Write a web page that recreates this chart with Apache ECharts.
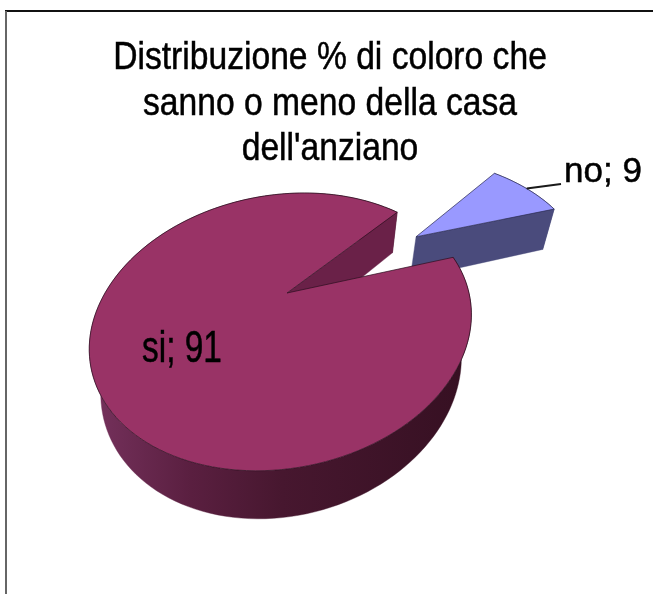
<!DOCTYPE html>
<html>
<head>
<meta charset="utf-8">
<script src="https://cdn.jsdelivr.net/npm/echarts@6/dist/echarts.min.js"></script>
<style>html,body{margin:0;padding:0;background:#fff}#chart{width:653px;height:594px}</style>
</head>
<body>
<div id="chart"></div>
<script>
// Survey shares, clockwise from the first slice angle
const categories = ['no', 'si'];
const values = [9, 91];
const explode = [0.9, 0];
const titleLines = ['Distribuzione % di coloro che', 'sanno o meno della casa', "dell'anziano"];

const firstSliceAngle = 40;
const total = values.reduce((a, b) => a + b, 0);

// Perspective view of a unit-radius disc: x to the right, y towards the viewer, z downwards
const view = { x0: 287, y0: 293, fx: 182, fy: 128, skew: -22, k: 0.28, dropY: 47, dropD: 0.055 };
function project(x, y, z) {
  const d = 1 - view.k * y + view.dropD * z;
  return [
    view.x0 + (view.fx * x + view.skew * y) / d,
    view.y0 + (view.fy * y + view.dropY * z) / d
  ];
}
function planPoint(deg, r, off) {
  const a = deg * Math.PI / 180;
  return [off[0] + r * Math.sin(a), off[1] - r * Math.cos(a)];
}
function arc(from, to, off, z) {
  const pts = [];
  const n = Math.max(2, Math.ceil(Math.abs(to - from) / 2));
  for (let i = 0; i <= n; i++) {
    const p = planPoint(from + (to - from) * i / n, 1, off);
    pts.push(project(p[0], p[1], z));
  }
  return pts;
}

const palette = {
  no: { top: '#9999ff', side: '#4a4b7c', wall: '#4a4b7c', edge: '#2a2a50' },
  si: {
    top: '#993366',
    wall: '#6a2148',
    edge: '#2a0f1e',
    side: {
      type: 'linear', x: 100, y: 0, x2: 465, y2: 0, global: true,
      colorStops: [
        { offset: 0, color: '#73305a' },
        { offset: 0.25, color: '#5a1f40' },
        { offset: 0.5, color: '#47172f' },
        { offset: 1, color: '#361022' }
      ]
    }
  }
};

const labelFont = { fill: '#000', fontFamily: 'Liberation Sans', stroke: '#000', lineWidth: 0.5, verticalAlign: 'middle' };

function renderSlice(params, api) {
  const i = params.dataIndex;
  const before = values.slice(0, i).reduce((a, b) => a + b, 0);
  const start = firstSliceAngle + before / total * 360;
  const end = start + api.value(0) / total * 360;
  const mid = (start + end) / 2;
  const off = planPoint(mid, explode[i], [0, 0]);
  const c = palette[categories[i]];
  const apexTop = project(off[0], off[1], 0);
  const apexBottom = project(off[0], off[1], 1);
  const topArc = arc(start, end, off, 0);
  const bottomArc = arc(start, end, off, 1);
  const poly = (points, fill, stroke, lw) => ({
    type: 'polygon',
    shape: { points },
    style: { fill, stroke: stroke || fill, lineWidth: lw === undefined ? 0.5 : lw }
  });
  const children = [
    // outer rim, then the cut face at the closing angle, then the top face
    poly(topArc.concat(bottomArc.slice().reverse()), c.side, c.side, 0.4),
    poly([apexTop, topArc[topArc.length - 1], bottomArc[bottomArc.length - 1], apexBottom], c.wall, c.wall, 0.4),
    poly([apexTop].concat(topArc), c.top, c.edge, 0.7)
  ];
  if (categories[i] === 'no') {
    const m = planPoint(mid, 1, off);
    const from = project(m[0], m[1], 0);
    children.push({
      type: 'line',
      shape: { x1: from[0], y1: from[1], x2: 561, y2: 184 },
      style: { stroke: '#1a1a1a', lineWidth: 2 }
    });
    children.push({
      type: 'text', x: 564, y: 172,
      style: Object.assign({ text: 'no; ' + api.value(0), fontSize: 35 }, labelFont)
    });
  } else {
    children.push({
      type: 'text', x: 142, y: 350, scaleX: 0.76,
      style: Object.assign({ text: 'si; ' + api.value(0), fontSize: 44 }, labelFont)
    });
  }
  return { type: 'group', children };
}

const chart = echarts.init(document.getElementById('chart'), null, { renderer: 'canvas' });
chart.setOption({
  backgroundColor: '#ffffff',
  animation: false,
  graphic: [
    { type: 'line', shape: { x1: 5, y1: 11, x2: 653, y2: 11 }, style: { stroke: '#111111', lineWidth: 2 } },
    { type: 'line', shape: { x1: 6, y1: 11, x2: 6, y2: 594 }, style: { stroke: '#666666', lineWidth: 2 } },
    {
      type: 'text', x: 330, y: 36, scaleX: 0.885,
      style: {
        text: titleLines.join('\n'),
        fill: '#000', stroke: '#000', lineWidth: 0.5,
        fontFamily: 'Liberation Sans', fontSize: 38, lineHeight: 45.5,
        align: 'center', verticalAlign: 'top'
      }
    }
  ],
  series: [{
    type: 'custom',
    coordinateSystem: 'none',
    silent: true,
    renderItem: renderSlice,
    data: values.map((v, i) => ({ name: categories[i], value: v }))
  }]
});
</script>
</body>
</html>
